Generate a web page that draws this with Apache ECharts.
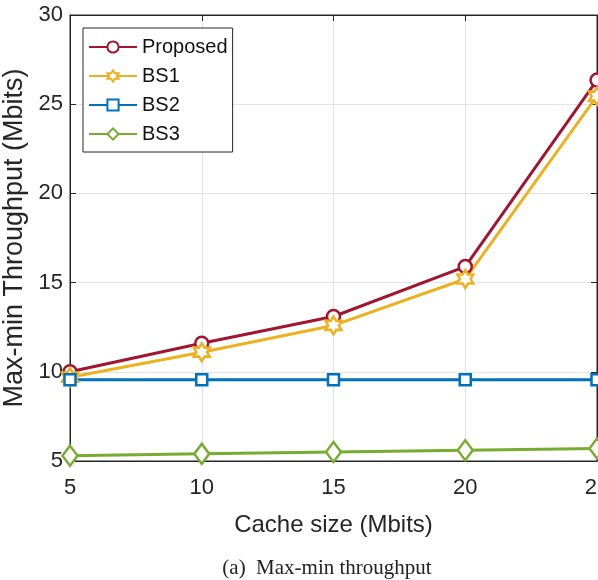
<!DOCTYPE html>
<html><head><meta charset="utf-8">
<script src="https://cdn.jsdelivr.net/npm/echarts@6/dist/echarts.min.js"></script>
<style>html,body{margin:0;padding:0;background:#fff}#c{width:598px;height:580px}</style>
</head><body><div id="c"></div>
<script>
var cacheSizes = [5, 10, 15, 20, 25];
var proposed = [10.0, 11.6, 13.1, 15.9, 26.35];
var bs1 = [9.7, 11.1, 12.6, 15.2, 25.45];
var bs2 = [9.55, 9.55, 9.55, 9.55, 9.55];
var bs3 = [5.3, 5.4, 5.5, 5.6, 5.7];
var xTicks = [5, 10, 15, 20, 25];
var yTicks = [5, 10, 15, 20, 25, 30];

var hexagram = 'path://M0,-100L28.87,-50L86.6,-50L57.7,0L86.6,50L28.87,50L0,100L-28.87,50L-86.6,50L-57.7,0L-86.6,-50L-28.87,-50Z';
var font = 'Liberation Sans, Arial, Helvetica, sans-serif';
function pairs(v){ return cacheSizes.map(function(x,i){return [x, v[i]];}); }
function ser(name, data, color, symbol, size){
  return {name:name, type:'line', data:pairs(data), symbol:symbol, symbolSize:size,
    lineStyle:{color:color, width:3}, itemStyle:{color:'#fff', borderColor:color, borderWidth:2.5},
    emphasis:{disabled:true}, z:3};
}
var chart = echarts.init(document.getElementById('c'), null, {renderer:'canvas'});
chart.setOption({
  animation:false,
  grid:{left:70, right:1, top:15, bottom:119, show:true, borderColor:'#262626', borderWidth:1,
    outerBoundsMode:'none', containLabel:false},
  title:{text:'(a)  Max-min throughput', left:322, textAlign:'center', top:553,
    textStyle:{fontFamily:'Liberation Serif, Times New Roman, serif', fontSize:21, fontWeight:'normal', color:'#222'}},
  legend:{orient:'vertical', left:83, top:28, padding:[9,5,8,5], itemGap:9,
    itemWidth:48, itemHeight:14, borderColor:'#262626', borderWidth:1, backgroundColor:'#fff',
    textStyle:{fontFamily:font, fontSize:20, color:'#111'},
    data:['Proposed','BS1','BS2','BS3']},
  xAxis:[{type:'value', min:5, max:25, interval:5, name:'Cache size (Mbits)', nameLocation:'middle', nameGap:52,
    nameTextStyle:{fontFamily:font, fontSize:24, color:'#262626'},
    axisLine:{show:true, lineStyle:{color:'#262626'}},
    axisTick:{inside:true, length:6, lineStyle:{color:'#262626'}},
    axisLabel:{fontFamily:font, fontSize:22, color:'#262626', margin:16,
      formatter:function(v){return xTicks.indexOf(v)>=0? String(v):'';}},
    splitLine:{show:true, lineStyle:{color:'#e3e3e3', width:1}}},
    {type:'value', position:'top', min:5, max:25, interval:5,
    axisLine:{show:true, lineStyle:{color:'#262626'}}, axisTick:{inside:true, length:6, lineStyle:{color:'#262626'}},
    axisLabel:{show:false}, splitLine:{show:false}}],
  yAxis:[{type:'value', min:5, max:30, interval:5, name:'Max-min Throughput (Mbits)', nameLocation:'middle', nameGap:32,
    nameTextStyle:{fontFamily:font, fontSize:27, color:'#262626'},
    axisLine:{show:true, lineStyle:{color:'#262626'}},
    axisTick:{inside:true, length:6, lineStyle:{color:'#262626'}},
    axisLabel:{fontFamily:font, fontSize:22, color:'#262626', margin:7,
      formatter:function(v){return yTicks.indexOf(v)>=0? String(v):'';}},
    splitLine:{show:true, lineStyle:{color:'#e3e3e3', width:1}}},
    {type:'value', position:'right', min:5, max:30, interval:5,
    axisLine:{show:true, lineStyle:{color:'#262626'}}, axisTick:{inside:true, length:6, lineStyle:{color:'#262626'}},
    axisLabel:{show:false}, splitLine:{show:false}}],
  series:[
    ser('Proposed', proposed, '#A2142F', 'circle', 13),
    ser('BS1', bs1, '#EDB120', hexagram, [16,18]),
    ser('BS2', bs2, '#0072BD', 'rect', 11),
    ser('BS3', bs3, '#77AC30', 'diamond', [15,20])
  ]
});
</script></body></html>
